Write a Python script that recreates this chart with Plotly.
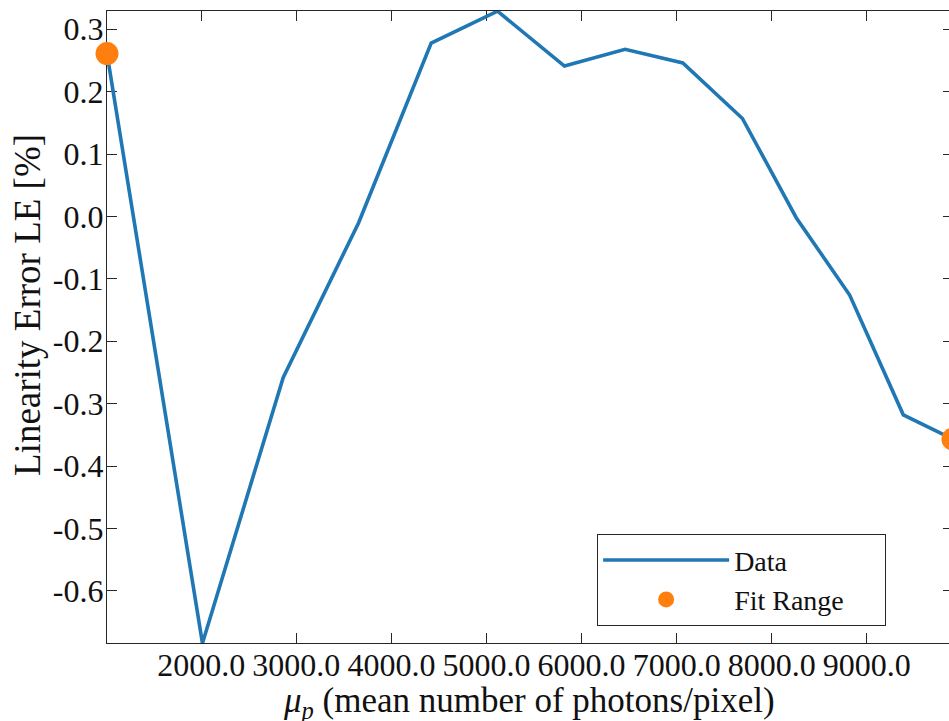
import plotly.graph_objects as go

# ---- data ----
mu_p = [1008, 2012, 2862, 3655, 4418, 5116, 5820, 6458, 7065, 7692, 8258, 8820, 9384, 9907]
linearity_error = [0.261, -0.684, -0.258, -0.010, 0.278, 0.329, 0.241, 0.268, 0.246, 0.157, -0.002, -0.126, -0.318, -0.357]
fit_range_idx = [0, 13]
series_names = ["Data", "Fit Range\u00a0\u00a0\u00a0\u00a0\u00a0"]

x_tickvals = [2000, 3000, 4000, 5000, 6000, 7000, 8000, 9000]
x_ticktext = ["2000.0", "3000.0", "4000.0", "5000.0", "6000.0", "7000.0", "8000.0", "9000.0"]
y_tickvals = [0.3, 0.2, 0.1, 0.0, -0.1, -0.2, -0.3, -0.4, -0.5, -0.6]
y_ticktext = ["0.3", "0.2", "0.1", "0.0", "-0.1", "-0.2", "-0.3", "-0.4", "-0.5", "-0.6"]

# tight axes: x from first to last sample, y from min to max
x_range = [mu_p[0], mu_p[-1]]
y_range = [-0.6837, 0.3293]

FONT = "Liberation Serif"
AX = "#262626"
TXT = "#111111"
ORANGE = "#ff7f0e"

fit_x = [mu_p[i] for i in fit_range_idx]
fit_y = [linearity_error[i] for i in fit_range_idx]

fig = go.Figure()
fig.add_trace(go.Scatter(x=mu_p, y=linearity_error, mode="lines", name=series_names[0],
                         line=dict(color="#1f77b4", width=3.6)))
fig.add_trace(go.Scatter(x=fit_x, y=fit_y, mode="markers", name=series_names[1],
                         marker=dict(color=ORANGE, size=23), cliponaxis=False))

# the original figure is cropped on its right side: the plot area runs a few
# pixels past the 949px window, which hides the overflow
fig.update_layout(
    width=953, height=721,
    margin=dict(l=107, r=0, t=11, b=78),
    paper_bgcolor="white", plot_bgcolor="white",
    font=dict(family=FONT, size=30, color=AX),
    showlegend=True,
    legend=dict(x=0.579, y=0.1725, xanchor="left", yanchor="top",
                bgcolor="white", bordercolor=AX, borderwidth=1.3,
                font=dict(family=FONT, size=28, color=TXT),
                itemwidth=126, itemsizing="trace"),
    xaxis=dict(range=x_range, tickvals=x_tickvals, ticktext=x_ticktext,
               showgrid=False, zeroline=False, showline=True, linecolor=AX, linewidth=1.3,
               mirror="ticks", ticks="inside", ticklen=10, tickwidth=1.3, tickcolor=AX,
               tickfont=dict(family=FONT, size=32, color=TXT), layer="below traces",
               ticklabelstandoff=-7),
    yaxis=dict(range=y_range, tickvals=y_tickvals, ticktext=y_ticktext,
               showgrid=False, zeroline=False, showline=True, linecolor=AX, linewidth=1.3,
               mirror="ticks", ticks="inside", ticklen=10, tickwidth=1.3, tickcolor=AX,
               tickfont=dict(family=FONT, size=32, color=TXT), layer="below traces",
               ticklabelstandoff=-4),
    annotations=[
        dict(text="<i>μ</i><sub><i>p</i></sub> (mean number of photons/pixel)",
             xref="paper", yref="paper", x=0.5, y=0, xanchor="center", yanchor="middle",
             yshift=-59, xshift=-1, showarrow=False,
             font=dict(family=FONT, size=35, color=TXT)),
        dict(text="Linearity Error LE [%]", textangle=-90,
             xref="paper", yref="paper", x=0, y=0.5, xanchor="center", yanchor="middle",
             xshift=-80, yshift=22, showarrow=False,
             font=dict(family=FONT, size=37, color=TXT)),
    ],
)

fig.write_html("out.html", config={"displayModeBar": False},
               post_script="document.body.style.margin='0';document.body.style.overflow='hidden';")
